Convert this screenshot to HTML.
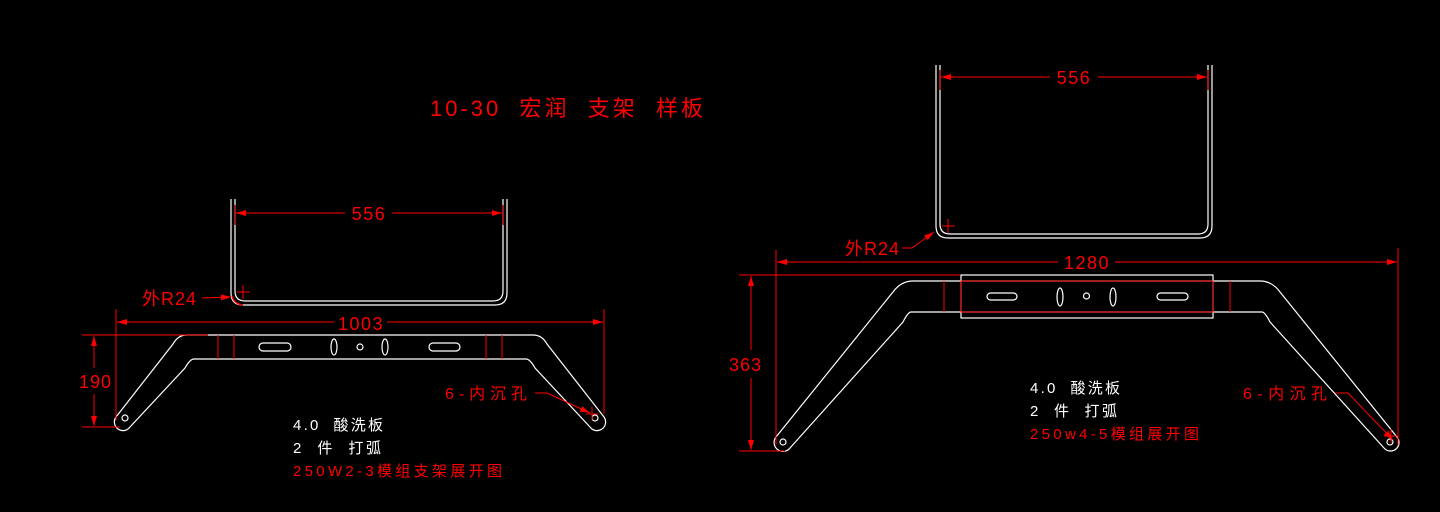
<!DOCTYPE html>
<html><head><meta charset="utf-8"><style>
html,body{margin:0;padding:0;background:#000;}
svg{display:block}
text{font-family:"Liberation Sans","Noto Sans CJK SC",sans-serif;white-space:pre;}
</style></head><body>
<svg width="1440" height="512" viewBox="0 0 1440 512" xmlns="http://www.w3.org/2000/svg" xml:space="preserve">
<rect width="1440" height="512" fill="#000"/>
<defs>
<marker id="a" viewBox="0 0 10 6" refX="10" refY="3" markerWidth="10" markerHeight="6" orient="auto-start-reverse" markerUnits="userSpaceOnUse"><path d="M0,0 L10,3 L0,6 Z" fill="#f00"/></marker>
</defs>

<text x="430" y="116" fill="#f00" font-size="22" textLength="273" lengthAdjust="spacing">10-30  宏润  支架  样板</text>

<!-- ===== Left U ===== -->
<g fill="none" stroke="#fff" stroke-width="1.2">
<path d="M231,199 V293 Q231,305 243,305 H495 Q507,305 507,293 V199"/>
<path d="M235,199 V291 Q235,301 245,301 H493 Q503,301 503,291 V199"/>
</g>
<g stroke="#f00" stroke-width="1" fill="none">
<line x1="235" y1="205" x2="235" y2="225"/><line x1="503" y1="205" x2="503" y2="225"/>
<line x1="236" y1="213" x2="345" y2="213" marker-start="url(#a)"/>
<line x1="392" y1="213" x2="502" y2="213" marker-end="url(#a)"/>
<line x1="202" y1="298" x2="231" y2="297" marker-end="url(#a)"/>
<line x1="237" y1="292" x2="250" y2="292"/><line x1="243" y1="285" x2="243" y2="299"/>
<path d="M232,296 Q234,304 243,305" stroke-width="1.5"/>
</g>
<text x="369" y="220" fill="#f00" font-size="18" text-anchor="middle" letter-spacing="1.5">556</text>
<text x="142" y="305" fill="#f00" font-size="18" letter-spacing="1">外R24</text>

<!-- ===== Left bracket ===== -->
<g fill="none" stroke="#fff" stroke-width="1.2">
<path d="M187,335 H533 Q542,335 547,344 L604,417 A8,8 0 0 1 590,427 L535,368 Q530,359 526,359 H194 Q190,359 185,368 L130,427 A8,8 0 0 1 116,417 L173,344 Q178,335 187,335 Z"/>
<rect x="259" y="343" width="32" height="8" rx="4"/>
<rect x="429" y="343" width="31" height="8" rx="4"/>
<ellipse cx="334" cy="347" rx="3" ry="8"/>
<ellipse cx="385" cy="347" rx="3" ry="8"/>
<circle cx="360" cy="347" r="3"/>
<circle cx="125" cy="418" r="3"/>
<circle cx="595" cy="418" r="3"/>
</g>
<g stroke="#f00" stroke-width="1" fill="none">
<line x1="218" y1="335" x2="218" y2="359"/><line x1="234" y1="335" x2="234" y2="359"/>
<line x1="486" y1="335" x2="486" y2="359"/><line x1="502" y1="335" x2="502" y2="359"/>
<line x1="116" y1="309" x2="116" y2="420"/><line x1="604" y1="309" x2="604" y2="414"/>
<line x1="117" y1="322" x2="334" y2="322" marker-start="url(#a)"/>
<line x1="387" y1="322" x2="603" y2="322" marker-end="url(#a)"/>
<line x1="82" y1="335" x2="208" y2="335"/><line x1="82" y1="427" x2="120" y2="427"/>
<line x1="94" y1="336" x2="94" y2="368" marker-start="url(#a)"/>
<line x1="94" y1="394" x2="94" y2="426" marker-end="url(#a)"/>
<line x1="535" y1="393" x2="547" y2="393"/>
<line x1="547" y1="393" x2="590" y2="413" marker-end="url(#a)"/>
<line x1="586" y1="414" x2="598" y2="414"/><line x1="592" y1="407" x2="592" y2="420"/>
</g>
<text x="361" y="330" fill="#f00" font-size="18" text-anchor="middle" letter-spacing="1.5">1003</text>
<text x="79" y="388" fill="#f00" font-size="18" letter-spacing="1">190</text>
<text x="445" y="399" fill="#f00" font-size="16" textLength="82" lengthAdjust="spacing">6-内沉孔</text>
<text x="293" y="430" fill="#fff" font-size="15" textLength="90" lengthAdjust="spacing">4.0  酸洗板</text>
<text x="293" y="453" fill="#fff" font-size="15" textLength="88" lengthAdjust="spacing">2  件  打弧</text>
<text x="293" y="476" fill="#f00" font-size="15" textLength="209" lengthAdjust="spacing">250W2-3模组支架展开图</text>

<!-- ===== Right U ===== -->
<g fill="none" stroke="#fff" stroke-width="1.2">
<path d="M936,65 V226 Q936,238 948,238 H1200 Q1212,238 1212,226 V65"/>
<path d="M940,65 V224 Q940,234 950,234 H1198 Q1208,234 1208,224 V65"/>
</g>
<g stroke="#f00" stroke-width="1" fill="none">
<line x1="940" y1="70" x2="940" y2="90"/><line x1="1208" y1="70" x2="1208" y2="90"/>
<line x1="941" y1="77" x2="1050" y2="77" marker-start="url(#a)"/>
<line x1="1098" y1="77" x2="1207" y2="77" marker-end="url(#a)"/>
<path d="M902,248 H912 L934,232" marker-end="url(#a)"/>
<line x1="942" y1="226" x2="955" y2="226"/><line x1="948" y1="219" x2="948" y2="233"/>
</g>
<text x="1074" y="84" fill="#f00" font-size="18" text-anchor="middle" letter-spacing="1.5">556</text>
<text x="845" y="255" fill="#f00" font-size="18" letter-spacing="1">外R24</text>

<!-- ===== Right bracket ===== -->
<g fill="none" stroke="#fff" stroke-width="1.2">
<path d="M913,281 H1260 Q1272,281 1280,292 L1397,437 A8,8 0 0 1 1384,448 L1270,322 Q1265,312 1262,312 H911 Q908,312 903,322 L790,448 A8,8 0 0 1 776,437 L893,292 Q901,281 913,281 Z"/>
<rect x="961" y="275" width="252" height="43"/>
<rect x="987" y="293" width="30" height="7" rx="3.5"/>
<rect x="1157" y="293" width="31" height="7" rx="3.5"/>
<ellipse cx="1060" cy="297" rx="3" ry="9"/>
<ellipse cx="1113" cy="297" rx="3" ry="9"/>
<circle cx="1086.5" cy="296" r="3"/>
<circle cx="783" cy="442" r="3"/>
<circle cx="1390" cy="442" r="3"/>
</g>
<g stroke="#f00" stroke-width="1" fill="none">
<rect x="961" y="281" width="252" height="31"/>
<line x1="944" y1="281" x2="944" y2="312"/><line x1="1230" y1="281" x2="1230" y2="312"/>
<line x1="776" y1="250" x2="776" y2="445"/><line x1="1398" y1="248" x2="1398" y2="445"/>
<line x1="777" y1="262" x2="1058" y2="262" marker-start="url(#a)"/>
<line x1="1115" y1="262" x2="1397" y2="262" marker-end="url(#a)"/>
<line x1="739" y1="275" x2="960" y2="275"/><line x1="739" y1="451" x2="785" y2="451"/>
<line x1="751" y1="276" x2="751" y2="350" marker-start="url(#a)"/>
<line x1="751" y1="378" x2="751" y2="450" marker-end="url(#a)"/>
<path d="M1335,393 H1348 L1393,440" marker-end="url(#a)"/>
<line x1="1384" y1="436" x2="1398" y2="436"/><line x1="1391" y1="429" x2="1391" y2="443"/>
</g>
<text x="1087" y="269" fill="#f00" font-size="18" text-anchor="middle" letter-spacing="1.5">1280</text>
<text x="729" y="371" fill="#f00" font-size="18" letter-spacing="1">363</text>
<text x="1243" y="399" fill="#f00" font-size="16" textLength="84" lengthAdjust="spacing">6-内沉孔</text>
<text x="1030" y="393" fill="#fff" font-size="15" textLength="90" lengthAdjust="spacing">4.0  酸洗板</text>
<text x="1030" y="416" fill="#fff" font-size="15" textLength="87" lengthAdjust="spacing">2  件  打弧</text>
<text x="1030" y="439" fill="#f00" font-size="15" textLength="169" lengthAdjust="spacing">250w4-5模组展开图</text>
</svg>
</body></html>
